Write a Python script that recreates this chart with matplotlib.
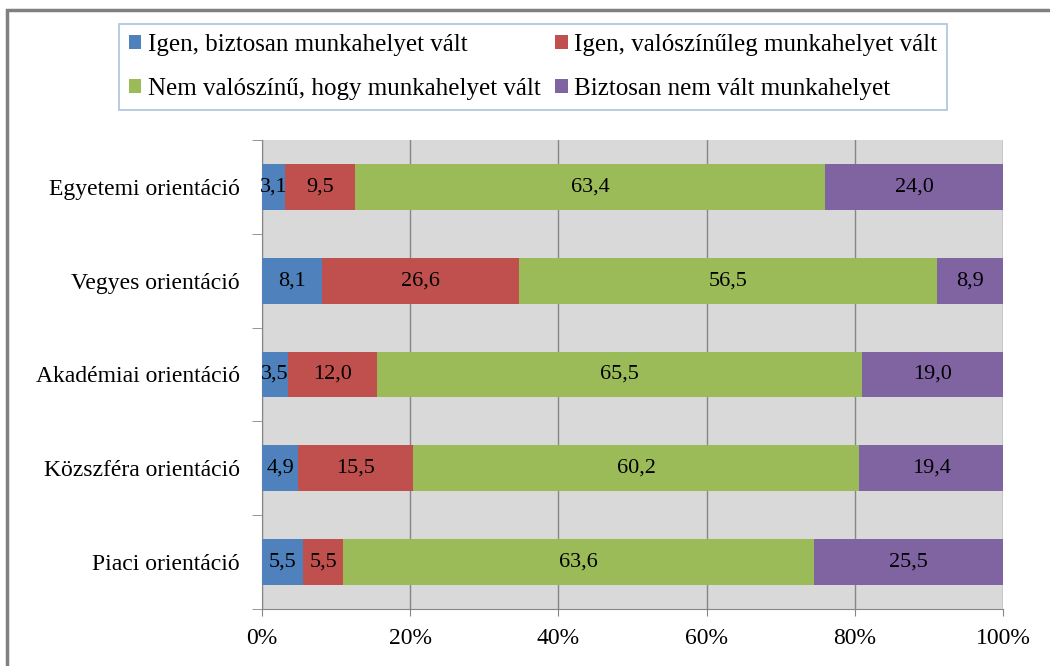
import matplotlib.pyplot as plt
import matplotlib.patches as mpatches
import numpy as np

categories = ['Egyetemi orientáció', 'Vegyes orientáció', 'Akadémiai orientáció',
              'Közszféra orientáció', 'Piaci orientáció']
series_names = ['Igen, biztosan munkahelyet vált', 'Igen, valószínűleg munkahelyet vált',
                'Nem valószínű, hogy munkahelyet vált', 'Biztosan nem vált munkahelyet']
biztosan = [3.1, 8.1, 3.5, 4.9, 5.5]
valoszinuleg = [9.5, 26.6, 12.0, 15.5, 5.5]
nem_valoszinu = [63.4, 56.5, 65.5, 60.2, 63.6]
biztosan_nem = [24.0, 8.9, 19.0, 19.4, 25.5]
colors = ['#4f81bd', '#c0504d', '#9bbb59', '#8064a2']

plt.rcParams['font.family'] = ['Liberation Serif', 'DejaVu Serif']

fig = plt.figure(figsize=(10.5, 6.66), dpi=100)
ax = fig.add_axes([262 / 1050, 1 - 609 / 666, 741 / 1050, 469 / 666])
ax.set_facecolor('#d9d9d9')

data = np.array([biztosan, valoszinuleg, nem_valoszinu, biztosan_nem])
totals = data.sum(axis=0)
y = np.arange(len(categories))
left = np.zeros(len(categories))
handles = []
for vals, name, c in zip(data, series_names, colors):
    w = vals / totals * 100
    bars = ax.barh(y, w, left=left, height=0.49, color=c, label=name, zorder=3)
    handles.append(bars)
    for xi, wi, yi, v in zip(left, w, y, vals):
        ax.text(xi + wi / 2, yi, f'{v:.1f}'.replace('.', ','), ha='center', va='center',
                fontsize=16, color='black', zorder=4)
    left += w

ax.set_xlim(0, 100)
ax.set_ylim(len(categories) - 0.5, -0.5)
ax.set_xticks(np.arange(0, 101, 20))
ax.set_xticklabels([f'{v}%' for v in range(0, 101, 20)], fontsize=17)
ax.set_yticks(y)
ax.set_yticklabels(categories, fontsize=17)
ax.set_yticks(np.arange(-0.5, len(categories)), minor=True)
ax.tick_params(axis='y', which='major', length=0, pad=16)
ax.tick_params(axis='y', which='minor', length=7, color='#868686', direction='out')
ax.tick_params(axis='x', length=5, color='#868686', pad=9)
ax.grid(axis='x', color='#868686', linewidth=1, zorder=1)
for s in ['top', 'right']:
    ax.spines[s].set_visible(False)
for s in ['left', 'bottom']:
    ax.spines[s].set_color('#868686')

order = [0, 2, 1, 3]
leg = fig.legend([handles[i] for i in order], [series_names[i] for i in order],
                 ncol=2, loc='upper center', bbox_to_anchor=(533 / 1050, 1 - 24 / 666),
                 fontsize=18, handlelength=0.5, handleheight=0.5, handletextpad=0.25,
                 columnspacing=0.6, labelspacing=0.88, borderpad=0.4, borderaxespad=0,
                 fancybox=False, edgecolor='#95b3d7', frameon=True)
leg.get_frame().set_linewidth(1.2)

frame = mpatches.Rectangle((7 / 1050, -0.1), 1.2, 1 - 10 / 666 + 0.1, transform=fig.transFigure,
                           fill=False, edgecolor='#808080', linewidth=2.5)
fig.patches.append(frame)

fig.savefig('out.png', dpi=100)
